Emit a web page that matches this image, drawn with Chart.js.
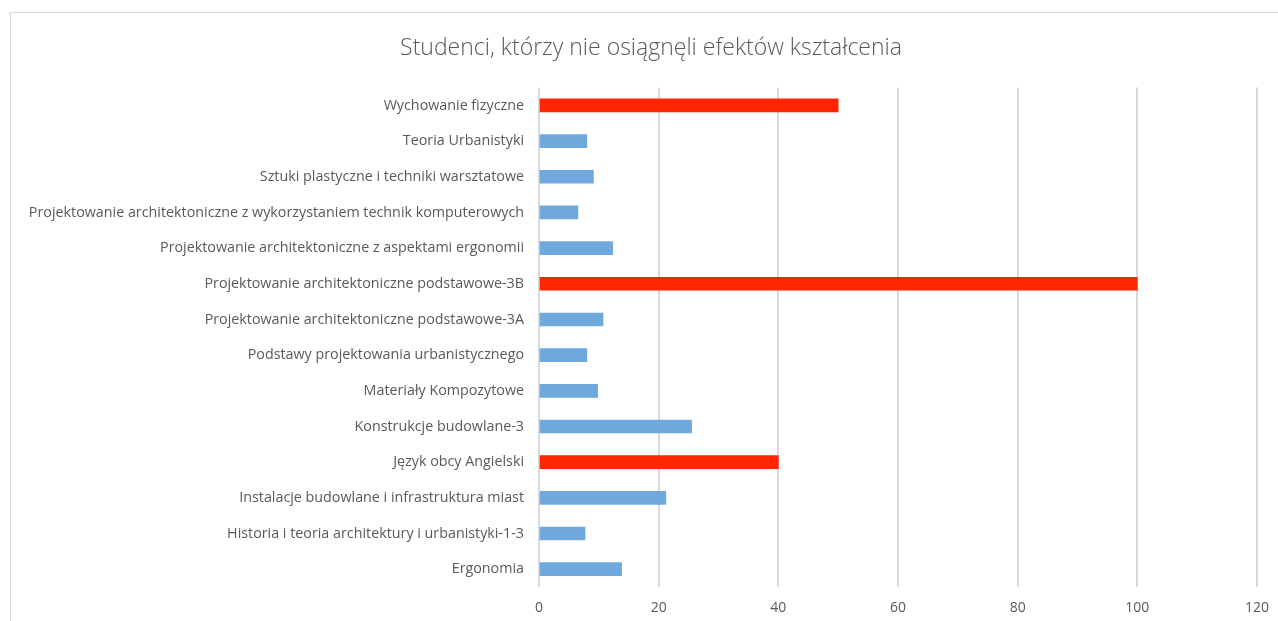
<!DOCTYPE html>
<html>
<head>
<meta charset="utf-8">
<script src="https://cdn.jsdelivr.net/npm/chart.js@4/dist/chart.umd.min.js"></script>
<style>
  html, body { margin: 0; padding: 0; background: #fff; overflow: hidden; }
  #wrap { position: relative; width: 1278px; height: 621px; overflow: hidden; }
  #frame {
    position: absolute; left: 10px; top: 12px; width: 1300px; height: 640px;
    border: 1px solid #d9d9d9; box-sizing: border-box;
  }
  canvas { position: absolute; left: 0; top: 0; }
</style>
</head>
<body>
<div id="wrap">
  <div id="frame"></div>
  <canvas id="chart" width="1278" height="621"></canvas>
</div>
<script>
// categories, top to bottom as drawn
const categories = [
  "Wychowanie fizyczne",
  "Teoria Urbanistyki",
  "Sztuki plastyczne i techniki warsztatowe",
  "Projektowanie architektoniczne z wykorzystaniem technik komputerowych",
  "Projektowanie architektoniczne z aspektami ergonomii",
  "Projektowanie architektoniczne podstawowe-3B",
  "Projektowanie architektoniczne podstawowe-3A",
  "Podstawy projektowania urbanistycznego",
  "Materiały Kompozytowe",
  "Konstrukcje budowlane-3",
  "Język obcy Angielski",
  "Instalacje budowlane i infrastruktura miast",
  "Historia i teoria architektury i urbanistyki-1-3",
  "Ergonomia"
];

const values = [50, 8, 9.1, 6.5, 12.3, 100, 10.7, 8, 9.8, 25.5, 40, 21.2, 7.7, 13.8];

// categories shown in red
const highlighted = ["Wychowanie fizyczne", "Projektowanie architektoniczne podstawowe-3B", "Język obcy Angielski"];

const xTicks = [0, 20, 40, 60, 80, 100, 120];

const BLUE = "#6fa8dc";
const RED = "#ff2600";
const TEXT = "#595959";
const FONT = "'Open Sans', 'Liberation Sans', sans-serif";

const ctx = document.getElementById("chart").getContext("2d");

new Chart(ctx, {
  type: "bar",
  data: {
    labels: categories,
    datasets: [
      {
        data: values,
        backgroundColor: categories.map((c) => (highlighted.includes(c) ? RED : BLUE)),
        borderWidth: 0,
        barThickness: 13,
      },
    ],
  },
  options: {
    indexAxis: "y",
    responsive: false,
    animation: false,
    layout: {
      padding: { top: 12, left: 28, right: 4, bottom: 0 },
    },
    plugins: {
      legend: { display: false },
      tooltip: { enabled: false },
      title: {
        display: true,
        text: "Studenci, którzy nie osiągnęli efektów kształcenia",
        color: TEXT,
        font: { family: FONT, size: 23, weight: "300", lineHeight: 1.2 },
        padding: { top: 23, bottom: 25 },
      },
    },
    scales: {
      x: {
        min: 0,
        max: 120,
        afterBuildTicks: (axis) => {
          axis.ticks = xTicks.map((v) => ({ value: v }));
        },
        afterFit: (axis) => {
          axis.height = 34;
          // keep the right end of the axis (120) where the reference has it
          axis.paddingRight = 21;
        },
        grid: { color: "#d9d9d9", lineWidth: 2, drawTicks: false },
        border: { display: false },
        ticks: {
          color: TEXT,
          padding: 13,
          font: { family: FONT, size: 14 },
        },
      },
      y: {
        grid: { display: false, drawTicks: false },
        border: { display: false },
        afterFit: (axis) => {
          axis.width = 511;
        },
        ticks: {
          color: TEXT,
          padding: 15,
          autoSkip: false,
          font: { family: FONT, size: 14.3 },
        },
      },
    },
  },
});
</script>
</body>
</html>
